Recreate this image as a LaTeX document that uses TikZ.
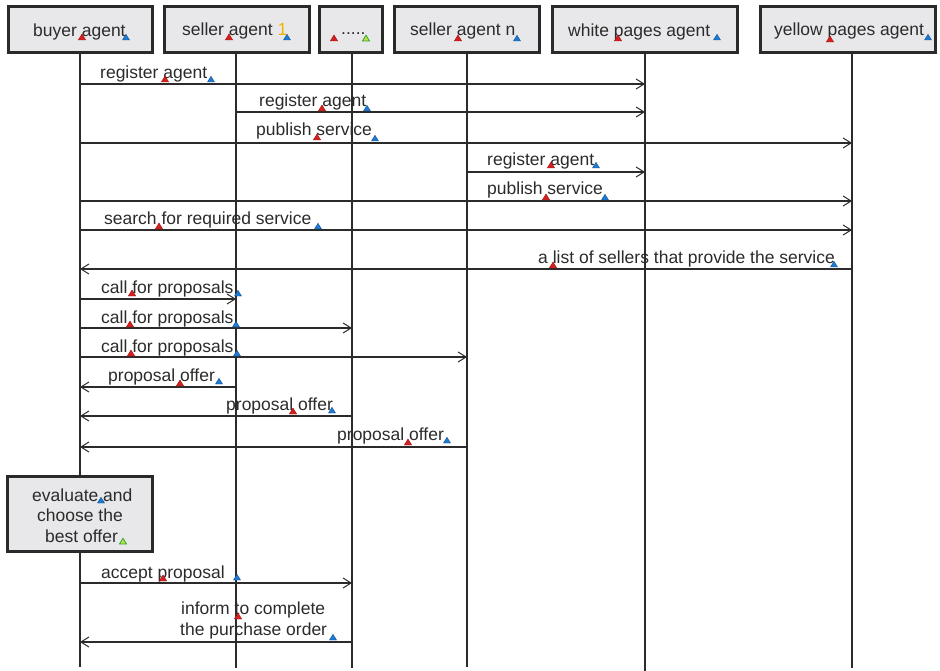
\documentclass[tikz,border=0pt]{standalone}
\usepackage{fontspec}
\setmainfont{Liberation Sans}
\usetikzlibrary{arrows.meta}

\definecolor{ink}{HTML}{2B2B2B}
\definecolor{boxfill}{HTML}{E8E8EA}
\definecolor{boxline}{HTML}{2A2A2A}
\definecolor{mkred}{HTML}{D42020}
\definecolor{mkredline}{HTML}{9E1515}
\definecolor{mkblue}{HTML}{1E7AD2}
\definecolor{mkblueline}{HTML}{0E4C94}
\definecolor{mkgreen}{HTML}{C2E24A}
\definecolor{mkgreenline}{HTML}{2EA52E}
\definecolor{one}{HTML}{F2B300}

% small triangular text markers: #1 = centre x, #2 = base y
\newcommand\redmark[2]{\filldraw[redmk] (#1-3.7,#2) -- (#1+3.7,#2) -- (#1,#2-6) -- cycle;}
\newcommand\bluemark[2]{\filldraw[bluemk] (#1-3.5,#2) -- (#1+3.5,#2) -- (#1,#2-5.7) -- cycle;}
\newcommand\greenmark[2]{\filldraw[greenmk] (#1-3.5,#2) -- (#1+3.5,#2) -- (#1,#2-5.7) -- cycle;}

\begin{document}
\begin{tikzpicture}[x=1pt,y=-1pt,
  every node/.style={font=\fontsize{17.5}{20.5}\selectfont, text=ink},
  agentbox/.style={draw=boxline, line width=3pt, fill=boxfill, inner sep=0pt,
                   minimum height=46pt},
  lbl/.style={anchor=base west, inner sep=0pt},
  lifeline/.style={draw=ink, line width=1.2pt},
  msg/.style={draw=ink, line width=1.2pt,
              -{Straight Barb[length=8pt,width=10pt,line width=1pt]}},
  redmk/.style={fill=mkred, draw=mkredline, line width=0.4pt},
  bluemk/.style={fill=mkblue, draw=mkblueline, line width=0.4pt},
  greenmk/.style={fill=mkgreen, draw=mkgreenline, line width=0.8pt},
]
\useasboundingbox (0,0) rectangle (940,671);

% lifeline tops and ends
\coordinate (buyer-top)   at (80,54);   \coordinate (buyer-end)   at (80,667);
\coordinate (seller1-top) at (236,54);  \coordinate (seller1-end) at (236,668);
\coordinate (dots-top)    at (352,54);  \coordinate (dots-end)    at (352,668);
\coordinate (sellern-top) at (467,54);  \coordinate (sellern-end) at (467,667);
\coordinate (white-top)   at (645,54);  \coordinate (white-end)   at (645,671);
\coordinate (yellow-top)  at (852,54);  \coordinate (yellow-end)  at (852,668);

\foreach \a in {buyer,seller1,dots,sellern,white,yellow}
  \draw[lifeline] (\a-top) -- (\a-end);

% agent boxes
\node[agentbox, minimum width=144pt] (buyer)   at (80.5,29.5) {};
\node[agentbox, minimum width=145pt] (seller1) at (237,29.5) {};
\node[agentbox, minimum width=63pt]  (dots)    at (351,30) {};
\node[agentbox, minimum width=145pt] (sellern) at (467,29.5) {};
\node[agentbox, minimum width=185pt] (white)   at (645,29.5) {};
\node[agentbox, minimum width=175pt] (yellow)  at (848,29.5) {};

\node[lbl] (t-buyer)   at (33,37)  {buyer agent};
\node[lbl] (t-seller1) at (182,36) {seller agent \textcolor{one}{1}};
\node[lbl] (t-dots)    at (341,34.5) {.....};
\node[lbl] (t-sellern) at (410,36) {seller agent n};
\node[lbl] (t-white)   at (568,37) {white pages agent};
\node[lbl] (t-yellow)  at (774,36) {yellow pages agent};

% messages
\draw[msg] (buyer-top |- 0,84)    -- (white-top |- 0,84);
\draw[msg] (seller1-top |- 0,112) -- (white-top |- 0,112);
\draw[msg] (buyer-top |- 0,143)   -- (yellow-top |- 0,143);
\draw[msg] (sellern-top |- 0,172) -- (white-top |- 0,172);
\draw[msg] (buyer-top |- 0,201)   -- (yellow-top |- 0,201);
\draw[msg] (buyer-top |- 0,230)   -- (yellow-top |- 0,230);
\draw[msg] (yellow-top |- 0,269)  -- (buyer-top |- 0,269);
\draw[msg] (buyer-top |- 0,299)   -- (seller1-top |- 0,299);
\draw[msg] (buyer-top |- 0,328)   -- (dots-top |- 0,328);
\draw[msg] (buyer-top |- 0,357)   -- (sellern-top |- 0,357);
\draw[msg] (seller1-top |- 0,387) -- (buyer-top |- 0,387);
\draw[msg] (dots-top |- 0,416)    -- (buyer-top |- 0,416);
\draw[msg] (sellern-top |- 0,447) -- (buyer-top |- 0,447);
\draw[msg] (buyer-top |- 0,583)   -- (dots-top |- 0,583);
\draw[msg] (dots-top |- 0,642)    -- (buyer-top |- 0,642);

% message labels
\node[lbl] (m1)  at (100,79)  {register agent};
\node[lbl] (m2)  at (259,107) {register agent};
\node[lbl] (m3)  at (256,136) {publish service};
\node[lbl] (m4)  at (487,166) {register agent};
\node[lbl] (m5)  at (487,195) {publish service};
\node[lbl] (m6)  at (104,225) {search for required service};
\node[lbl] (m7)  at (538,263) {a list of sellers that provide the service};
\node[lbl] (m8)  at (101,294) {call for proposals};
\node[lbl] (m9)  at (101,323) {call for proposals};
\node[lbl] (m10) at (101,352) {call for proposals};
\node[lbl] (m11) at (108,381) {proposal offer};
\node[lbl] (m12) at (226,410) {proposal offer};
\node[lbl] (m13) at (337,440) {proposal offer};
\node[lbl] (m14) at (101,578) {accept proposal};
\node[lbl] (m15a) at (181,614) {inform to complete};
\node[lbl] (m15b) at (180,635) {the purchase order};

% local activity of the buyer
\node[agentbox, minimum width=145pt, minimum height=75pt] (evaluate) at (80,514) {};
\node[lbl] (e1) at (32,501) {evaluate and};
\node[lbl] (e2) at (37,521) {choose the};
\node[lbl] (e3) at (45,542) {best offer};

% text markers
\redmark{82}{40}   \bluemark{126}{40}
\redmark{229}{40}  \bluemark{287}{40}
\redmark{334}{41}  \greenmark{366}{41}
\redmark{458}{41}  \bluemark{517}{41}
\redmark{618}{41}  \bluemark{717}{40}
\redmark{830}{42}  \bluemark{928}{40}
\redmark{165}{82}  \bluemark{211}{82}
\redmark{322}{111} \bluemark{367}{111}
\redmark{317}{140} \bluemark{375}{141}
\redmark{551}{168} \bluemark{596}{168}
\redmark{546}{200} \bluemark{605}{200}
\redmark{159}{229} \bluemark{318}{229}
\redmark{553}{268} \bluemark{834}{267}
\redmark{132}{296} \bluemark{238}{296}
\redmark{130}{327} \bluemark{236}{327}
\redmark{131}{356} \bluemark{237}{356}
\redmark{180}{386} \bluemark{219}{384}
\redmark{293}{414} \bluemark{332}{413}
\redmark{408}{445} \bluemark{447}{443}
\bluemark{101}{503} \greenmark{123}{544}
\redmark{163}{581} \bluemark{237}{580}
\redmark{238}{619} \bluemark{333}{640}
\end{tikzpicture}
\end{document}
